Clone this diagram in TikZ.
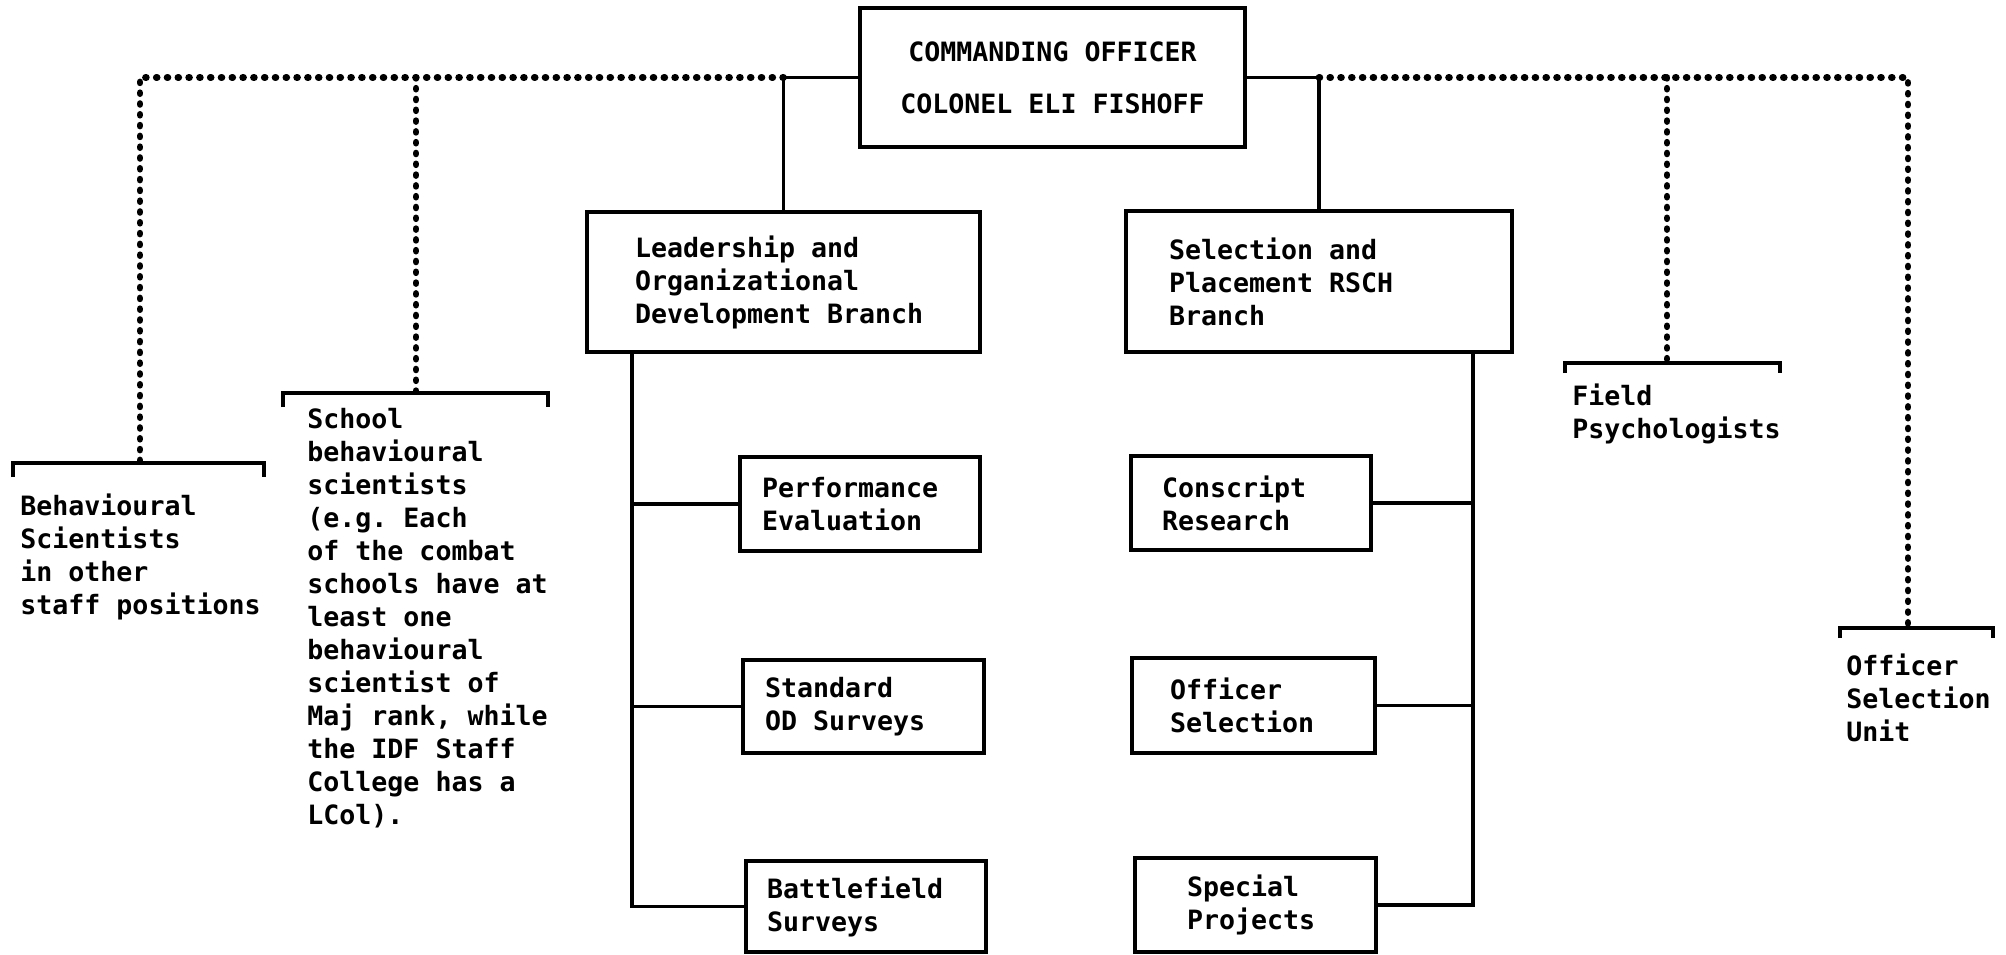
\documentclass[tikz,border=0pt]{standalone}
\usepackage{fontspec}
\setmonofont[WordSpace={1,0,0}]{DejaVu Sans Mono}
\usepackage{tikz}
\def\mfont{\ttfamily\bfseries\fontsize{13.3}{16.5}\selectfont}
\tikzset{
  box/.style={draw,line width=2pt,align=left,font=\mfont,
    execute at begin node={\spaceskip=0pt\xspaceskip=0pt}},
  link/.style={line width=1.9pt},
  dotlink/.style={line width=3.4pt,line cap=round,dash pattern=on 0.4pt off 5pt},
  lbl/.style={anchor=north west,inner sep=0pt,align=left,font=\mfont}
}

\begin{document}
\begin{tikzpicture}[x=0.5pt,y=-0.5pt]
  \useasboundingbox (0,0) rectangle (2006,954);
  % head and the two branches
  \node[box,align=center,minimum width=192.5pt,minimum height=69.5pt,
        font=\ttfamily\bfseries\fontsize{13.3}{26}\selectfont] (co) at (1052.5,77.5)
        {COMMANDING OFFICER\\COLONEL ELI FISHOFF};
  \node[box,minimum height=70pt,inner xsep=24pt,text width=148.5pt] (lod) at (783.5,282)
        {Leadership and\\Organizational\\Development Branch};
  \node[box,minimum height=70.5pt,inner xsep=21.5pt,text width=150pt] (spr) at (1319,281.5)
        {Selection and\\Placement RSCH\\Branch};
  \draw[link] (co.west) -| (lod.north);
  \draw[link] (co.east) -| (spr.north);

  % sections under the branches
  \node[box,minimum height=47pt,inner xsep=11pt,text width=98pt] (perf) at (860,504) {Performance\\Evaluation};
  \node[box,minimum height=46.5pt,inner xsep=11pt,text width=98.5pt] (std) at (863.5,706.5) {Standard\\OD Surveys};
  \node[box,minimum height=45.5pt,inner xsep=10.5pt,text width=99pt] (bat) at (866,906.5) {Battlefield\\Surveys};
  \node[box,minimum height=47pt,inner xsep=15.5pt,text width=89pt] (cons) at (1251,503) {Conscript\\Research};
  \node[box,minimum height=47.5pt,inner xsep=19pt,text width=83.5pt] (osel) at (1253.5,705.5) {Officer\\Selection};
  \node[box,minimum height=47pt,inner xsep=26pt,text width=68.5pt] (spec) at (1255.5,905) {Special\\Projects};
  \coordinate (ltrunk) at (632,282);
  \coordinate (rtrunk) at (1473,282);
  \draw[link] (lod.south -| ltrunk) |- (bat.west);
  \draw[link] (perf.west) -- (perf.west -| ltrunk);
  \draw[link] (std.west) -- (std.west -| ltrunk);
  \draw[link] (spr.south -| rtrunk) |- (spec.east);
  \draw[link] (cons.east) -- (cons.east -| rtrunk);
  \draw[link] (osel.east) -- (osel.east -| rtrunk);

  % staff lines (dotted)
  \coordinate (bsbr) at (140,463);
  \coordinate (schbr) at (416,393);
  \coordinate (fpbr) at (1667,363);
  \coordinate (osubr) at (1908,628);
  \draw[dotlink] (lod.north |- co.west) -| (bsbr);
  \draw[dotlink] (schbr |- co.west) -- (schbr);
  \draw[dotlink] (spr.north |- co.east) -| (osubr);
  \draw[dotlink] (fpbr |- co.east) -- (fpbr);
  \draw[link] (13,477) |- (264,463) -- (264,477);
  \draw[link] (283,407) |- (548,393) -- (548,407);
  \draw[link] (1565,373) |- (1780,363) -- (1780,373);
  \draw[link] (1840,638) |- (1993,628) -- (1993,638);

  \node[lbl] (bstxt) at (20,493) {Behavioural\\Scientists\\in other\\staff positions};
  \node[lbl] (schtxt) at (307,408) {School\\behavioural\\scientists\\(e.g. Each\\of the combat\\schools have at\\least one\\behavioural\\scientist of\\Maj rank, while\\the IDF Staff\\College has a\\LCol).};
  \node[lbl] (fptxt) at (1572,383) {Field\\Psychologists};
  \node[lbl] (osutxt) at (1846,653) {Officer\\Selection\\Unit};
\end{tikzpicture}
\end{document}
